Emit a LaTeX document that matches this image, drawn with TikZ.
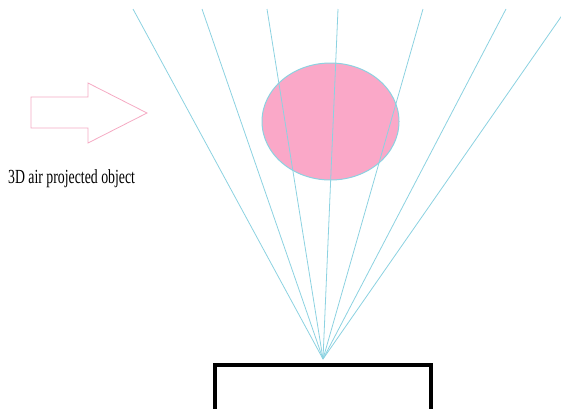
\documentclass[tikz,border=0pt]{standalone}
\usepackage{fontspec}
\setmainfont{Liberation Serif}
\usetikzlibrary{shapes.geometric}
\begin{document}
\begin{tikzpicture}[x=1pt,y=-1pt,
  ray/.style={draw={rgb,255:red,140;green,210;blue,225}, line width=0.8pt},
  obj/.style={fill={rgb,255:red,250;green,168;blue,200}, draw={rgb,255:red,140;green,210;blue,225}, line width=1pt},
  arrowshape/.style={draw={rgb,255:red,245;green,170;blue,195}, line width=0.8pt},
  projector/.style={draw=black, line width=4pt},
  lbl/.style={font=\fontsize{20}{22}\selectfont, inner sep=0pt, anchor=base west, xscale=0.69}]
\useasboundingbox (0,0) rectangle (561,408);
\begin{scope}
\clip (0,0) rectangle (561,408);
\coordinate (src) at (323,359);
\coordinate (t1) at (133,9);
\coordinate (t2) at (202,9);
\coordinate (t3) at (267,9);
\coordinate (t4) at (338,9);
\coordinate (t5) at (423,9);
\coordinate (t6) at (506,9);
\coordinate (t7) at (563,14);
\node[obj, ellipse, minimum width=137pt, minimum height=117pt, inner sep=0pt] (ball) at (330.5,121.5) {};
\foreach \i in {1,...,7} \draw[ray] (src) -- (t\i);
\draw[arrowshape] (31,97) -- (88,97) -- (88,83) -- (147,113) -- (88,143) -- (88,128) -- (31,128) -- cycle;
\node[lbl] (label) at (8,183) {3D air projected object};
\node[projector, minimum width=216pt, minimum height=60pt, anchor=north west, inner sep=0pt] (proj) at (213,363) {};
\end{scope}
\end{tikzpicture}
\end{document}
